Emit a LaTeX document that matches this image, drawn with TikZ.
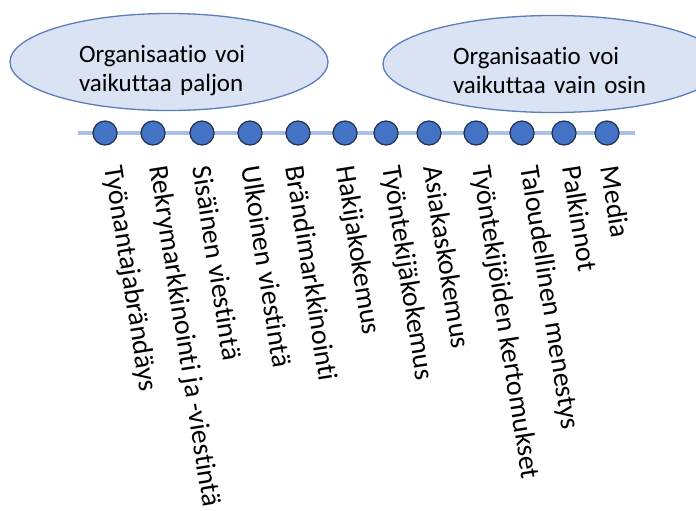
\documentclass[tikz,border=0pt]{standalone}
\usepackage{fontspec}
\setmainfont{Carlito}[Ligatures=NoCommon]
\usepackage{tikz}
\usetikzlibrary{shapes.geometric}

\definecolor{zonefill}{HTML}{DAE3F3}
\definecolor{zonedraw}{HTML}{5B7DB8}
\definecolor{axisblue}{HTML}{A9C1E6}
\definecolor{dotblue}{HTML}{4472C4}
\definecolor{dotedge}{HTML}{1F3050}

\begin{document}
\begin{tikzpicture}[x=1pt, y=1pt,
    zone/.style={ellipse, draw=zonedraw, fill=zonefill, line width=1.3pt,
        minimum height=97pt, inner sep=0pt},
    zonetext/.style={align=left, inner sep=0pt,
        font=\fontsize{25}{29}\selectfont},
    dot/.style={circle, draw=dotedge, fill=dotblue, line width=1.2pt,
        minimum size=24pt, inner sep=0pt},
    factor/.style={anchor=west, rotate=-81, inner sep=0pt,
        font=\fontsize{28}{30}\selectfont}]

    \useasboundingbox (0,0) rectangle (696,-511);

    % the two ellipses
    \node[zone, minimum width=318pt](paljon) at (169,-62) {};
    \node[zonetext, text width=180pt](paljontext) at ([yshift=-9pt]paljon.center)
        {Organisaatio voi\\vaikuttaa paljon};

    \node[zone, minimum width=340pt](osin) at (553,-64) {};
    \node[zonetext, text width=200pt](osintext) at ([yshift=-6pt]osin.center)
        {Organisaatio voi\\vaikuttaa vain osin};

    % axis with dots
    \coordinate (axisstart) at (78,-133);
    \coordinate (axisend) at (635,-133);
    \draw[axisblue, line width=4.5pt] (axisstart) -- (axisend);

    \foreach \x [count=\i] in {105,153,202,250,298,345,386,429,476,522,564,607}
        \node[dot](d\i) at (\x,-133) {};

    % labels under the dots
    \foreach \x/\txt [count=\i] in {
        112/Työnantajabrändäys,
        157/Rekrymarkkinointi ja -viestintä,
        202/Sisäinen viestintä,
        251/Ulkoinen viestintä,
        295/Brändimarkkinointi,
        344/Hakijakokemus,
        390/Työntekijäkokemus,
        433/Asiakaskokemus,
        480/Työntekijöiden kertomukset,
        528/Taloudellinen menestys,
        572/Palkinnot,
        610/Media}
        \node[factor](l\i) at (\x,-166) {\txt};
\end{tikzpicture}
\end{document}
